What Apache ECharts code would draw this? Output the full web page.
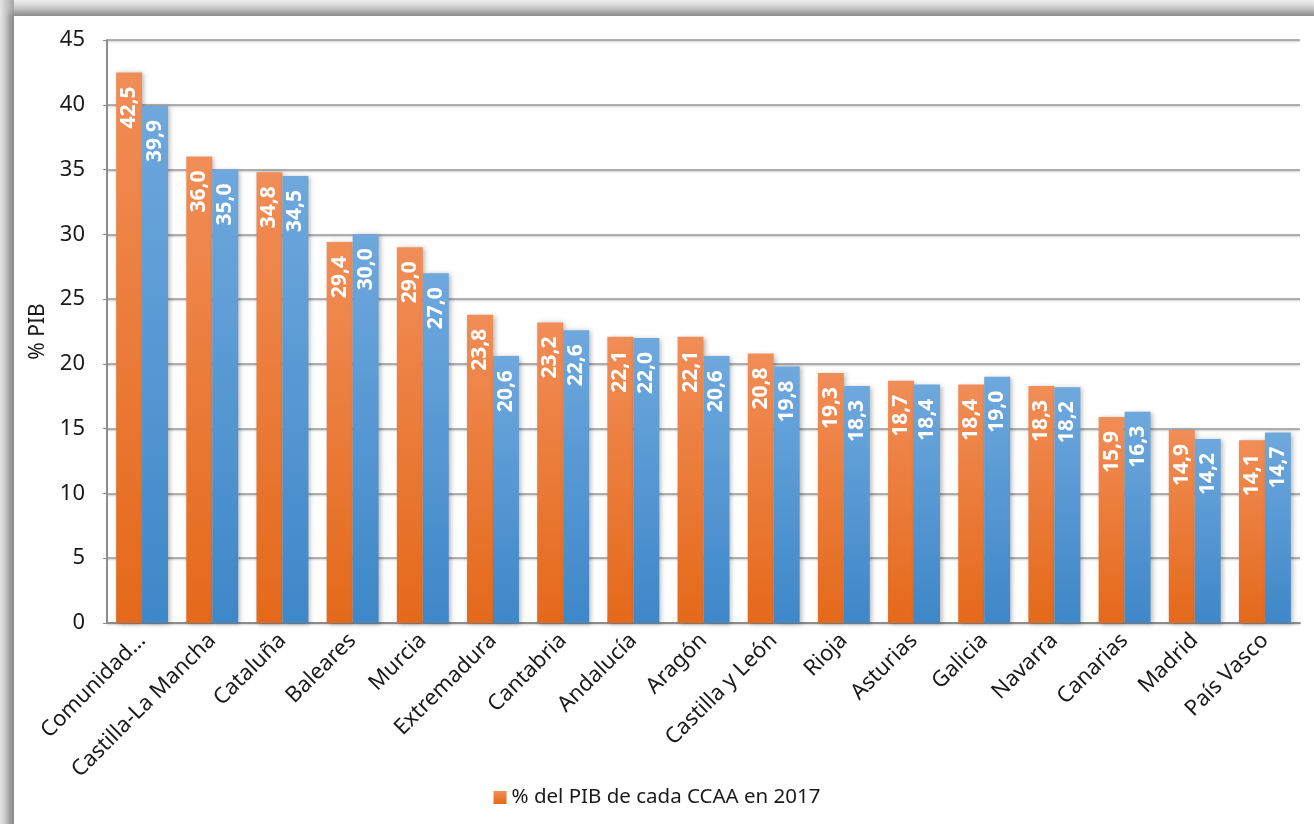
<!DOCTYPE html>
<html>
<head>
<meta charset="utf-8">
<script src="https://cdn.jsdelivr.net/npm/echarts@6/dist/echarts.min.js"></script>
<style>
  html, body { margin: 0; padding: 0; width: 1314px; height: 824px; overflow: hidden;
               background: linear-gradient(to bottom, #f0f0f0 0px, #a8a8a8 16px, #ffffff 16px); }
  #frame { position: absolute; left: 14px; top: 16px; width: 1320px; height: 830px; background: #fff;
           box-shadow: -3px -2px 6px 1px #8a8a8a; }
  #leftband { position: absolute; left: 0; top: 0; width: 14px; height: 824px;
              background: linear-gradient(to right, #e4e4e4 0px, #a4a4a4 14px); }
  #main { position: absolute; left: 0; top: 0; width: 1314px; height: 824px; }
</style>
</head>
<body>
<div id="leftband"></div>
<div id="frame"></div>
<div id="main"></div>
<script>
var regiones = ['Comunidad Valenciana', 'Castilla-La Mancha', 'Cataluña', 'Baleares', 'Murcia',
  'Extremadura', 'Cantabria', 'Andalucía', 'Aragón', 'Castilla y León', 'Rioja', 'Asturias',
  'Galicia', 'Navarra', 'Canarias', 'Madrid', 'País Vasco'];
var pib2017 = [42.5, 36.0, 34.8, 29.4, 29.0, 23.8, 23.2, 22.1, 22.1, 20.8, 19.3, 18.7, 18.4, 18.3, 15.9, 14.9, 14.1];
var serieAzul = [39.9, 35.0, 34.5, 30.0, 27.0, 20.6, 22.6, 22.0, 20.6, 19.8, 18.3, 18.4, 19.0, 18.2, 16.3, 14.2, 14.7];
var nombreNaranja = '% del PIB de cada CCAA en 2017';

var fuente = '"Noto Sans", sans-serif';

var chart = echarts.init(document.getElementById('main'), null, { renderer: 'canvas' });

function etiqueta() {
  return {
    show: true,
    position: 'insideTop',
    rotate: 90,
    align: 'right',
    verticalAlign: 'middle',
    distance: 14,
    color: '#ffffff',
    fontFamily: fuente,
    fontWeight: 'bold',
    fontSize: 21,
    formatter: function (p) { return p.value.toFixed(1).replace('.', ','); }
  };
}

var option = {
  backgroundColor: 'transparent',
  animation: false,
  textStyle: { fontFamily: fuente },
  grid: { left: 107, top: 40, right: 14, bottom: 201 },
  legend: {
    data: [nombreNaranja],
    bottom: 11,
    left: 'center',
    itemWidth: 13,
    itemHeight: 13,
    itemGap: 6,
    icon: 'rect',
    textStyle: { fontSize: 20.5, color: '#1a1a1a', fontFamily: fuente }
  },
  xAxis: {
    type: 'category',
    data: regiones,
    axisLine: { lineStyle: { color: '#8c8c8c', width: 2 } },
    axisTick: { show: false },
    axisLabel: {
      rotate: 45,
      interval: 0,
      margin: 14,
      fontSize: 22,
      color: '#1a1a1a',
      fontFamily: fuente,
      formatter: function (v) { return v.length > 18 ? v.slice(0, 9) + '…' : v; }
    }
  },
  yAxis: {
    type: 'value',
    min: 0,
    max: 45,
    interval: 5,
    name: '% PIB',
    nameLocation: 'middle',
    nameGap: 54,
    nameRotate: 90,
    nameTextStyle: { fontSize: 21, color: '#1a1a1a', fontFamily: fuente },
    axisLine: { show: true, lineStyle: { color: '#8c8c8c', width: 2 } },
    axisTick: { show: true, length: 4, lineStyle: { color: '#8c8c8c' } },
    axisLabel: { fontSize: 22, color: '#1a1a1a', margin: 22, fontFamily: fuente },
    splitLine: { lineStyle: { color: '#9a9a9a', width: 1.5, shadowColor: 'rgba(0,0,0,0.25)', shadowBlur: 2, shadowOffsetY: 1 } }
  },
  series: [
    {
      name: nombreNaranja,
      type: 'bar',
      data: pib2017,
      barGap: '0%',
      barCategoryGap: '26%',
      itemStyle: {
        color: new echarts.graphic.LinearGradient(0, 0, 0, 1, [
          { offset: 0, color: '#F18D57' },
          { offset: 1, color: '#E4691A' }
        ]),
        shadowColor: 'rgba(0,0,0,0.3)',
        shadowBlur: 5,
        shadowOffsetX: 2,
        shadowOffsetY: 1
      },
      label: etiqueta()
    },
    {
      name: 'Serie 2',
      type: 'bar',
      data: serieAzul,
      itemStyle: {
        color: new echarts.graphic.LinearGradient(0, 0, 0, 1, [
          { offset: 0, color: '#6EA8DD' },
          { offset: 1, color: '#3E87C8' }
        ]),
        shadowColor: 'rgba(0,0,0,0.3)',
        shadowBlur: 5,
        shadowOffsetX: 2,
        shadowOffsetY: 1
      },
      label: etiqueta()
    }
  ]
};

chart.setOption(option);
</script>
</body>
</html>
